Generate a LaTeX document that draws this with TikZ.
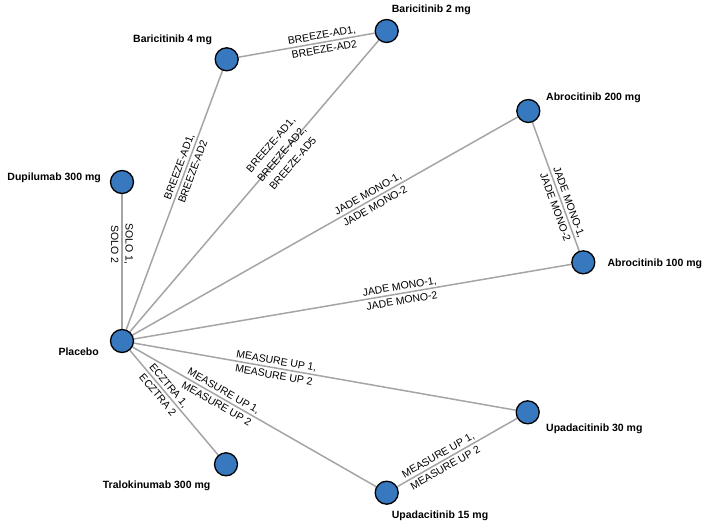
\documentclass[tikz,border=0pt]{standalone}
\usepackage{fontspec}
\setmainfont{Liberation Sans}
\usetikzlibrary{backgrounds}
\definecolor{nodeblue}{RGB}{55,120,190}
\definecolor{edgegray}{RGB}{165,165,165}
\begin{document}
\begin{tikzpicture}[x=1pt,y=-1pt,
  trt/.style={circle, draw=black, line width=1.3pt, fill=nodeblue, minimum size=23pt, inner sep=0pt},
  lbl/.style={font=\fontsize{10.5}{12}\selectfont\bfseries, inner sep=0pt},
  conn/.style={draw=edgegray, line width=1.5pt},
  elabplain/.style={font=\fontsize{10.5}{14.5}\selectfont, align=center, inner sep=0pt},
  elab/.style={elabplain, sloped}]
\useasboundingbox (0,0) rectangle (708,527);

% treatment nodes
\node[trt] (pla)  at (122,341) {};
\node[trt] (dup)  at (122,182) {};
\node[trt] (bar4) at (226.7,59.3) {};
\node[trt] (bar2) at (386.7,31) {};
\node[trt] (abr2) at (528.3,111) {};
\node[trt] (abr1) at (583.3,262.3) {};
\node[trt] (upa3) at (527.7,412.3) {};
\node[trt] (upa1) at (386.7,492.7) {};
\node[trt] (tra)  at (226,464.3) {};

% node labels
\node[lbl, anchor=base east] (plaL)  at (99,355)    {Placebo};
\node[lbl, anchor=base east] (dupL)  at (101,180)   {Dupilumab 300 mg};
\node[lbl, anchor=base west] (bar4L) at (133,42.3)  {Baricitinib 4 mg};
\node[lbl, anchor=base west] (bar2L) at (391.7,13)  {Baricitinib 2 mg};
\node[lbl, anchor=base west] (abr2L) at (546,100.7) {Abrocitinib 200 mg};
\node[lbl, anchor=base west] (abr1L) at (607.3,266.7) {Abrocitinib 100 mg};
\node[lbl, anchor=base west] (upa3L) at (546,431.7) {Upadacitinib 30 mg};
\node[lbl, anchor=base west] (upa1L) at (391.7,518.3) {Upadacitinib 15 mg};
\node[lbl, anchor=base west] (traL)  at (102.7,488.3) {Tralokinumab 300 mg};

% connectors
\begin{scope}[on background layer]
\draw[conn] (pla) -- node[elab, pos=0.62] {BREEZE-AD1,\\BREEZE-AD2} (bar4);
\draw[conn] (pla) -- node[elab, pos=0.61] {BREEZE-AD1,\\BREEZE-AD2,\\BREEZE-AD5} (bar2);
\draw[conn] (bar4) -- node[elab, pos=0.62] {BREEZE-AD1,\\BREEZE-AD2} (bar2);
\draw[conn] (dup) -- node[elabplain, rotate=-90, pos=0.37] {SOLO 1,\\SOLO 2} (pla);
\draw[conn] (pla) -- node[elab, pos=0.62] {JADE MONO-1,\\JADE MONO-2} (abr2);
\draw[conn] (pla) -- node[elab, pos=0.61] {JADE MONO-1,\\JADE MONO-2} (abr1);
\draw[conn] (abr2) -- node[elab, pos=0.64] {JADE MONO-1,\\JADE MONO-2} (abr1);
\draw[conn] (pla) -- node[elab, pos=0.37] {MEASURE UP 1,\\MEASURE UP 2} (upa3);
\draw[conn] (pla) -- node[elab, pos=0.36] {MEASURE UP 1,\\MEASURE UP 2} (upa1);
\draw[conn] (upa1) -- node[elab, pos=0.37] {MEASURE UP 1,\\MEASURE UP 2} (upa3);
\draw[conn] (pla) -- node[elab, pos=0.38] {ECZTRA 1,\\ECZTRA 2} (tra);
\end{scope}
\end{tikzpicture}
\end{document}
